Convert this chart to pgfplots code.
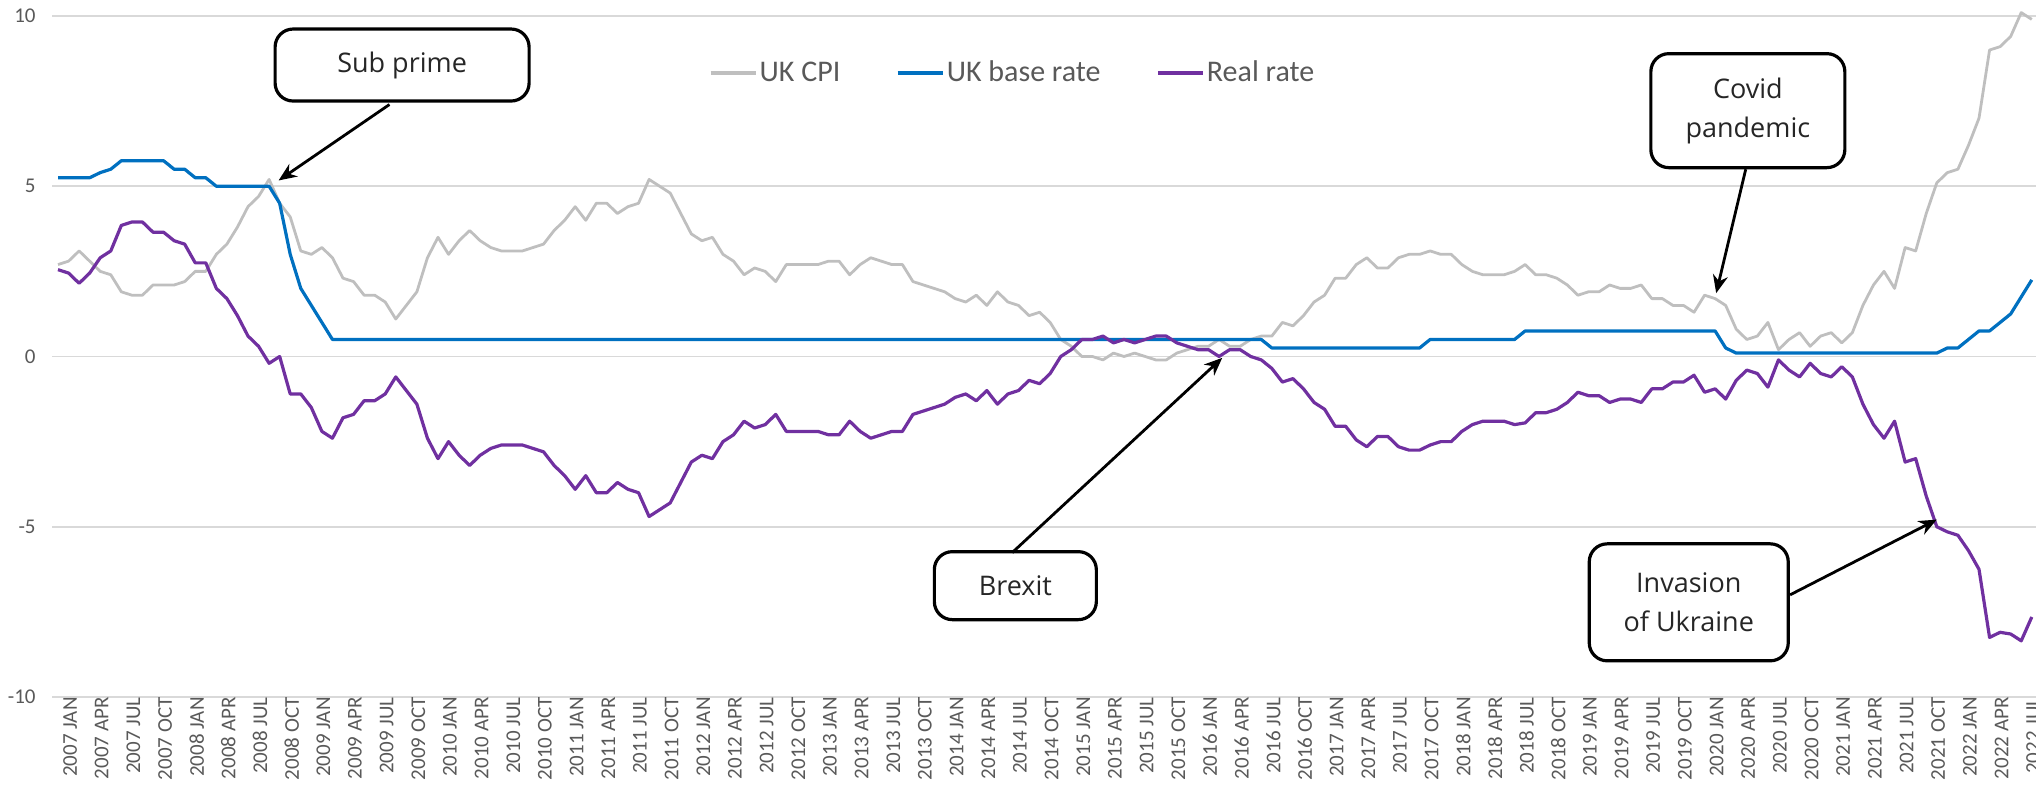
\documentclass[border=0pt]{standalone}
\usepackage{fontspec}
\setmainfont{Carlito}
\newfontfamily\boxfont{Open Sans}
\usepackage{pgfplots}
\pgfplotsset{compat=1.18}
\usepackage{pgfplotstable}
\usetikzlibrary{arrows.meta}
\definecolor{cpigray}{HTML}{BFBFBF}
\definecolor{baseblue}{HTML}{0070C0}
\definecolor{realpurple}{HTML}{7030A0}
\definecolor{gridgray}{HTML}{D9D9D9}
\definecolor{labgray}{HTML}{595959}
\tikzset{
  box/.style={draw=black, line width=1.6pt, rounded corners=9pt, fill=white,
    font=\boxfont\fontsize{13.5}{19.5}\selectfont, text=black!85, align=center, inner sep=2pt},
  arr/.style={-{Stealth[length=9pt,width=7.5pt]}, line width=1.4pt, black},
}

\pgfplotstableread{
m cpi base real
0 2.7 5.25 2.55
1 2.8 5.25 2.45
2 3.1 5.25 2.15
3 2.8 5.25 2.45
4 2.5 5.4 2.9
5 2.4 5.5 3.1
6 1.9 5.75 3.85
7 1.8 5.75 3.95
8 1.8 5.75 3.95
9 2.1 5.75 3.65
10 2.1 5.75 3.65
11 2.1 5.5 3.4
12 2.2 5.5 3.3
13 2.5 5.25 2.75
14 2.5 5.25 2.75
15 3.0 5.0 2.0
16 3.3 5.0 1.7
17 3.8 5.0 1.2
18 4.4 5.0 0.6
19 4.7 5.0 0.3
20 5.2 5.0 -0.2
21 4.5 4.5 0.0
22 4.1 3.0 -1.1
23 3.1 2.0 -1.1
24 3.0 1.5 -1.5
25 3.2 1.0 -2.2
26 2.9 0.5 -2.4
27 2.3 0.5 -1.8
28 2.2 0.5 -1.7
29 1.8 0.5 -1.3
30 1.8 0.5 -1.3
31 1.6 0.5 -1.1
32 1.1 0.5 -0.6
33 1.5 0.5 -1.0
34 1.9 0.5 -1.4
35 2.9 0.5 -2.4
36 3.5 0.5 -3.0
37 3.0 0.5 -2.5
38 3.4 0.5 -2.9
39 3.7 0.5 -3.2
40 3.4 0.5 -2.9
41 3.2 0.5 -2.7
42 3.1 0.5 -2.6
43 3.1 0.5 -2.6
44 3.1 0.5 -2.6
45 3.2 0.5 -2.7
46 3.3 0.5 -2.8
47 3.7 0.5 -3.2
48 4.0 0.5 -3.5
49 4.4 0.5 -3.9
50 4.0 0.5 -3.5
51 4.5 0.5 -4.0
52 4.5 0.5 -4.0
53 4.2 0.5 -3.7
54 4.4 0.5 -3.9
55 4.5 0.5 -4.0
56 5.2 0.5 -4.7
57 5.0 0.5 -4.5
58 4.8 0.5 -4.3
59 4.2 0.5 -3.7
60 3.6 0.5 -3.1
61 3.4 0.5 -2.9
62 3.5 0.5 -3.0
63 3.0 0.5 -2.5
64 2.8 0.5 -2.3
65 2.4 0.5 -1.9
66 2.6 0.5 -2.1
67 2.5 0.5 -2.0
68 2.2 0.5 -1.7
69 2.7 0.5 -2.2
70 2.7 0.5 -2.2
71 2.7 0.5 -2.2
72 2.7 0.5 -2.2
73 2.8 0.5 -2.3
74 2.8 0.5 -2.3
75 2.4 0.5 -1.9
76 2.7 0.5 -2.2
77 2.9 0.5 -2.4
78 2.8 0.5 -2.3
79 2.7 0.5 -2.2
80 2.7 0.5 -2.2
81 2.2 0.5 -1.7
82 2.1 0.5 -1.6
83 2.0 0.5 -1.5
84 1.9 0.5 -1.4
85 1.7 0.5 -1.2
86 1.6 0.5 -1.1
87 1.8 0.5 -1.3
88 1.5 0.5 -1.0
89 1.9 0.5 -1.4
90 1.6 0.5 -1.1
91 1.5 0.5 -1.0
92 1.2 0.5 -0.7
93 1.3 0.5 -0.8
94 1.0 0.5 -0.5
95 0.5 0.5 0.0
96 0.3 0.5 0.2
97 0.0 0.5 0.5
98 0.0 0.5 0.5
99 -0.1 0.5 0.6
100 0.1 0.5 0.4
101 0.0 0.5 0.5
102 0.1 0.5 0.4
103 0.0 0.5 0.5
104 -0.1 0.5 0.6
105 -0.1 0.5 0.6
106 0.1 0.5 0.4
107 0.2 0.5 0.3
108 0.3 0.5 0.2
109 0.3 0.5 0.2
110 0.5 0.5 0.0
111 0.3 0.5 0.2
112 0.3 0.5 0.2
113 0.5 0.5 0.0
114 0.6 0.5 -0.1
115 0.6 0.25 -0.35
116 1.0 0.25 -0.75
117 0.9 0.25 -0.65
118 1.2 0.25 -0.95
119 1.6 0.25 -1.35
120 1.8 0.25 -1.55
121 2.3 0.25 -2.05
122 2.3 0.25 -2.05
123 2.7 0.25 -2.45
124 2.9 0.25 -2.65
125 2.6 0.25 -2.35
126 2.6 0.25 -2.35
127 2.9 0.25 -2.65
128 3.0 0.25 -2.75
129 3.0 0.25 -2.75
130 3.1 0.5 -2.6
131 3.0 0.5 -2.5
132 3.0 0.5 -2.5
133 2.7 0.5 -2.2
134 2.5 0.5 -2.0
135 2.4 0.5 -1.9
136 2.4 0.5 -1.9
137 2.4 0.5 -1.9
138 2.5 0.5 -2.0
139 2.7 0.75 -1.95
140 2.4 0.75 -1.65
141 2.4 0.75 -1.65
142 2.3 0.75 -1.55
143 2.1 0.75 -1.35
144 1.8 0.75 -1.05
145 1.9 0.75 -1.15
146 1.9 0.75 -1.15
147 2.1 0.75 -1.35
148 2.0 0.75 -1.25
149 2.0 0.75 -1.25
150 2.1 0.75 -1.35
151 1.7 0.75 -0.95
152 1.7 0.75 -0.95
153 1.5 0.75 -0.75
154 1.5 0.75 -0.75
155 1.3 0.75 -0.55
156 1.8 0.75 -1.05
157 1.7 0.75 -0.95
158 1.5 0.25 -1.25
159 0.8 0.1 -0.7
160 0.5 0.1 -0.4
161 0.6 0.1 -0.5
162 1.0 0.1 -0.9
163 0.2 0.1 -0.1
164 0.5 0.1 -0.4
165 0.7 0.1 -0.6
166 0.3 0.1 -0.2
167 0.6 0.1 -0.5
168 0.7 0.1 -0.6
169 0.4 0.1 -0.3
170 0.7 0.1 -0.6
171 1.5 0.1 -1.4
172 2.1 0.1 -2.0
173 2.5 0.1 -2.4
174 2.0 0.1 -1.9
175 3.2 0.1 -3.1
176 3.1 0.1 -3.0
177 4.2 0.1 -4.1
178 5.1 0.1 -5.0
179 5.4 0.25 -5.15
180 5.5 0.25 -5.25
181 6.2 0.5 -5.7
182 7.0 0.75 -6.25
183 9.0 0.75 -8.25
184 9.1 1.0 -8.1
185 9.4 1.25 -8.15
186 10.1 1.75 -8.35
187 9.9 2.25 -7.65
}\datatable

\begin{document}
\begin{tikzpicture}
\useasboundingbox (-26pt,-45pt) rectangle (992pt,348.5pt);
\begin{axis}[
  scale only axis, width=992pt, height=340.5pt,
  at={(0pt,0pt)}, anchor=south west,
  xmin=-0.57, xmax=187.4, ymin=-10, ymax=10,
  clip=false,
  axis line style={draw=none}, tick style={draw=none},
  ytick={-10,-5,0,5,10}, yticklabels={-10,-5,0,5,10},
  yticklabel style={font=\fontsize{10.5}{11}\selectfont, text=labgray, inner sep=0pt, xshift=-8pt},
  ymajorgrids, grid style={gridgray, line width=0.8pt},
  xtick={0,3,...,186},
  xticklabels={2007 JAN,2007 APR,2007 JUL,2007 OCT,2008 JAN,2008 APR,2008 JUL,2008 OCT,2009 JAN,2009 APR,2009 JUL,2009 OCT,2010 JAN,2010 APR,2010 JUL,2010 OCT,2011 JAN,2011 APR,2011 JUL,2011 OCT,2012 JAN,2012 APR,2012 JUL,2012 OCT,2013 JAN,2013 APR,2013 JUL,2013 OCT,2014 JAN,2014 APR,2014 JUL,2014 OCT,2015 JAN,2015 APR,2015 JUL,2015 OCT,2016 JAN,2016 APR,2016 JUL,2016 OCT,2017 JAN,2017 APR,2017 JUL,2017 OCT,2018 JAN,2018 APR,2018 JUL,2018 OCT,2019 JAN,2019 APR,2019 JUL,2019 OCT,2020 JAN,2020 APR,2020 JUL,2020 OCT,2021 JAN,2021 APR,2021 JUL,2021 OCT,2022 JAN,2022 APR,2022 JUL},
  xticklabel style={rotate=90, anchor=east, font=\fontsize{10.5}{11}\selectfont, text=labgray, inner sep=0pt, yshift=-6pt},
  legend columns=3,
  legend style={draw=none, fill=none, at={(rel axis cs:0.3306,0.9165)}, anchor=west,
    font=\fontsize{15}{17}\selectfont, text=labgray, inner sep=0pt,
    nodes={inner xsep=1pt, inner ysep=1pt},
    /tikz/every even column/.append style={column sep=26.5pt}},
  legend image code/.code={\draw[#1, line width=2.2pt] (0pt,0pt) -- (22.5pt,0pt);},
  every axis plot/.append style={line join=round},
]
\addplot[cpigray, line width=1.4pt] table[x=m, y=cpi] {\datatable};
\addlegendentry{UK CPI}
\addplot[baseblue, line width=1.6pt] table[x=m, y=base] {\datatable};
\addlegendentry{UK base rate}
\addplot[realpurple, line width=1.6pt] table[x=m, y=real] {\datatable};
\addlegendentry{Real rate}

\node[box, minimum width=127pt, minimum height=36pt] at (axis cs:32.6,8.56) {Sub prime};
\draw[arr] (axis cs:31.4,7.40) -- (axis cs:20.9,5.17);

\node[box, minimum width=97pt, minimum height=57pt] at (axis cs:160.1,7.22) {Covid\\pandemic};
\draw[arr] (axis cs:159.9,5.50) -- (axis cs:157.1,1.86);

\node[box, minimum width=81pt, minimum height=34pt] at (axis cs:90.7,-6.73) {Brexit};
\draw[arr] (axis cs:90.4,-5.76) -- (axis cs:110.3,-0.04);

\node[box, minimum width=99.5pt, minimum height=58.5pt] at (axis cs:154.5,-7.22) {Invasion\\of Ukraine};
\draw[arr] (axis cs:164.1,-7.0) -- (axis cs:178,-4.79);
\end{axis}
\end{tikzpicture}
\end{document}
